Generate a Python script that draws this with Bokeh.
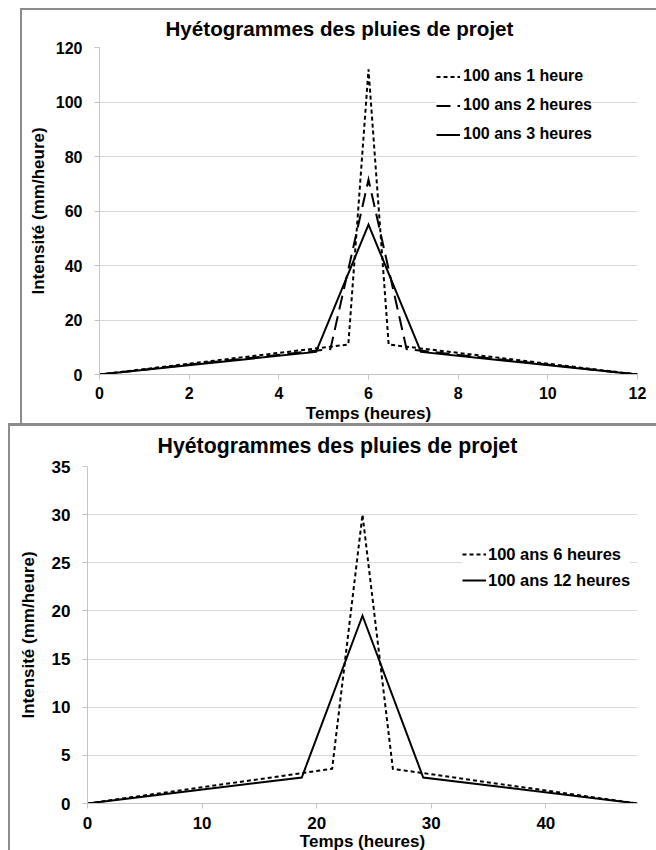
from bokeh.plotting import figure
from bokeh.models import Range1d, Legend, LegendItem
from bokeh.layouts import column
from bokeh.embed import file_html
from bokeh.resources import INLINE

# ---------------- data ----------------
title_text = "Hyétogrammes des pluies de projet"
x_label = "Temps (heures)"
y_label = "Intensité (mm/heure)"

# top chart (12-hour window)
top_x_ticks = [0, 2, 4, 6, 8, 10, 12]
top_y_ticks = [0, 20, 40, 60, 80, 100, 120]
t_1h = [0, 5.55, 6, 6.45, 12]
i_1h = [0, 11.0, 112.0, 11.0, 0]
t_2h = [0, 5.15, 6, 6.85, 12]
i_2h = [0, 9.3, 71.5, 9.3, 0]
t_3h = [0, 4.83, 6, 7.17, 12]
i_3h = [0, 8.3, 55.0, 8.3, 0]
top_labels = ["100 ans 1 heure", "100 ans 2 heures", "100 ans 3 heures"]

# bottom chart (48-hour window)
bot_x_ticks = [0, 10, 20, 30, 40]
bot_y_ticks = [0, 5, 10, 15, 20, 25, 30, 35]
t_6h = [0, 21.35, 24, 26.65, 48]
i_6h = [0, 3.6, 30.0, 3.6, 0]
t_12h = [0, 18.7, 24, 29.3, 48]
i_12h = [0, 2.7, 19.5, 2.7, 0]
bot_labels = ["100 ans 6 heures", "100 ans 12 heures"]

FONT = "Liberation Sans"
GRID = "#d9d9d9"
AXIS = "#c4c4c4"
BORDER_COLOR = "#8c8c8c"


def make_fig(width, height, xr, yr, mbl, mbr, mbt, mbb, xticks, yticks,
             title_offset, title_size, title_standoff, tick_size,
             y_label_standoff, x_label_std, x_major_std, margin, styles):
    p = figure(width=width, height=height,
               x_range=Range1d(*xr), y_range=Range1d(*yr),
               output_backend="svg", toolbar_location=None,
               min_border_left=mbl, min_border_right=mbr,
               min_border_top=mbt, min_border_bottom=mbb,
               margin=margin, styles=styles)
    p.background_fill_color = "white"
    p.border_fill_color = "white"
    p.outline_line_color = None

    p.title.text = title_text
    p.title.align = "left"
    p.title.vertical_align = "top"
    p.title.offset = title_offset
    p.title.text_font = FONT
    p.title.text_font_style = "bold"
    p.title.text_font_size = title_size
    p.title.text_color = "black"
    p.title.standoff = title_standoff

    p.xgrid.grid_line_color = None
    p.ygrid.grid_line_color = GRID
    p.ygrid.grid_line_width = 1

    p.xaxis.ticker = xticks
    p.yaxis.ticker = yticks
    for ax in (p.xaxis[0], p.yaxis[0]):
        ax.axis_line_color = AXIS
        ax.axis_line_width = 1
        ax.major_tick_line_color = AXIS
        ax.major_tick_out = 5
        ax.major_tick_in = 0
        ax.minor_tick_line_color = None
        ax.major_label_text_font = FONT
        ax.major_label_text_font_style = "bold"
        ax.major_label_text_font_size = tick_size
        ax.major_label_text_color = "black"
        ax.axis_label_text_font = FONT
        ax.axis_label_text_font_style = "bold"
        ax.axis_label_text_font_size = "17px"
        ax.axis_label_text_color = "black"
    p.xaxis.axis_label = x_label
    p.yaxis.axis_label = y_label
    p.yaxis.major_label_standoff = 12
    p.yaxis.axis_label_standoff = y_label_standoff
    p.xaxis.major_label_standoff = x_major_std
    p.xaxis.axis_label_standoff = x_label_std
    return p


# ---------------- top chart ----------------
p1 = make_fig(634, 413, (0, 12), (0, 120), 75, 21, 37, 51,
              top_x_ticks, top_y_ticks, 66, "20.6px", 12, "16px", 5, 2, 7,
              (8, 0, 0, 20),
              {"box-sizing": "content-box",
               "border-left": "2px solid " + BORDER_COLOR,
               "border-top": "2px solid " + BORDER_COLOR})
r1 = p1.line(t_1h, i_1h, line_color="black", line_width=2, line_dash="4 3", line_join="miter")
r2 = p1.line(t_2h, i_2h, line_color="black", line_width=2, line_dash="14 7", line_join="miter")
r3 = p1.line(t_3h, i_3h, line_color="black", line_width=2, line_join="miter")
leg1 = Legend(items=[LegendItem(label=top_labels[0], renderers=[r1]),
                     LegendItem(label=top_labels[1], renderers=[r2]),
                     LegendItem(label=top_labels[2], renderers=[r3])],
              location=(337, 226.5), padding=5, spacing=2, margin=0,
              label_height=27, glyph_height=27, glyph_width=24, label_standoff=3,
              label_text_font=FONT, label_text_font_style="bold",
              label_text_font_size="16px", label_text_color="black",
              border_line_color=None, background_fill_color="white",
              background_fill_alpha=1.0)
p1.add_layout(leg1)

# ---------------- bottom chart ----------------
p2 = make_fig(646, 424, (0, 48), (0, 35), 77, 10, 39, 48,
              bot_x_ticks, bot_y_ticks, 70, "21.3px", 14, "17px", 11, 0, 8,
              (0, 0, 0, 8),
              {"box-sizing": "content-box",
               "border-left": "2px solid " + BORDER_COLOR,
               "border-top": "3px solid " + BORDER_COLOR})
r6 = p2.line(t_6h, i_6h, line_color="black", line_width=2, line_dash="4 3", line_join="miter")
r12 = p2.line(t_12h, i_12h, line_color="black", line_width=2, line_join="miter")
leg2 = Legend(items=[LegendItem(label=bot_labels[0], renderers=[r6]),
                     LegendItem(label=bot_labels[1], renderers=[r12])],
              location=(375, 211), padding=5, spacing=2, margin=0,
              label_height=24, glyph_height=24, glyph_width=24, label_standoff=2,
              label_text_font=FONT, label_text_font_style="bold",
              label_text_font_size="16.5px", label_text_color="black",
              border_line_color=None, background_fill_color="white",
              background_fill_alpha=1.0)
p2.add_layout(leg2)

layout = column(p1, p2, spacing=0)
open("out.html", "w").write(file_html(layout, INLINE))
